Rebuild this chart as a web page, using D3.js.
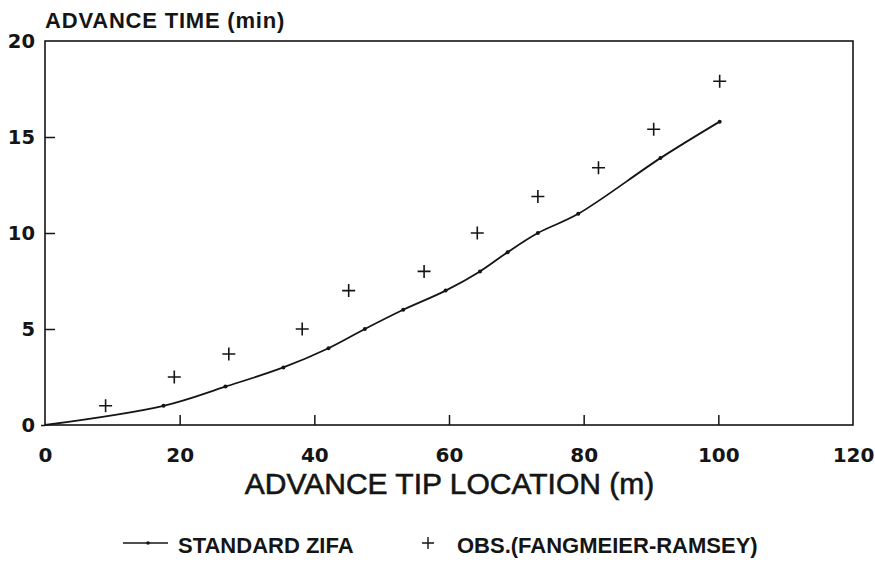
<!DOCTYPE html>
<html>
<head>
<meta charset="utf-8">
<script src="https://cdn.jsdelivr.net/npm/d3@7"></script>
<style>
  html, body { margin: 0; padding: 0; background: #fff; }
  svg { display: block; }
</style>
</head>
<body>
<svg id="chart" width="875" height="564"></svg>
<script>
// ---- data ----
const xTicks = [0, 20, 40, 60, 80, 100, 120];
const yTicks = [0, 5, 10, 15, 20];
const zifaX = [0, 17.6, 26.8, 35.4, 42.1, 47.5, 53.2, 59.5, 64.6, 68.7, 73.2, 79.2, 91.4, 100.2];
const zifaY = [0, 1.0, 2.0, 3.0, 4.0, 5.0, 6.0, 7.0, 8.0, 9.0, 10.0, 11.0, 13.9, 15.8];
const obsX = [9.0, 19.2, 27.3, 38.2, 45.1, 56.3, 64.2, 73.2, 82.2, 90.4, 100.2];
const obsY = [1.0, 2.5, 3.7, 5.0, 7.0, 8.0, 10.0, 11.9, 13.4, 15.4, 17.9];
const seriesNames = ["STANDARD ZIFA", "OBS.(FANGMEIER-RAMSEY)"];
const yTitle = "ADVANCE TIME (min)";
const xTitle = "ADVANCE TIP LOCATION (m)";

// ---- layout ----
const svg = d3.select("#chart");
const m = { left: 45, top: 41, right: 853, bottom: 425 };
const ink = "#151515";
const x = d3.scaleLinear().domain([0, 120]).range([m.left, m.right]);
const y = d3.scaleLinear().domain([0, 20]).range([m.bottom, m.top]);

// frame
svg.append("rect")
  .attr("x", m.left).attr("y", m.top)
  .attr("width", m.right - m.left).attr("height", m.bottom - m.top)
  .attr("fill", "none").attr("stroke", ink).attr("stroke-width", 1.6);

const tickFont = "'DejaVu Sans', sans-serif";

// x axis
const gx = svg.append("g").attr("transform", `translate(0,${m.bottom})`)
  .call(d3.axisBottom(x).tickValues(xTicks).tickSize(-10).tickPadding(23).tickFormat(d3.format("d")));
gx.select(".domain").remove();
gx.selectAll(".tick line").attr("stroke", ink).attr("stroke-width", 1.5)
  .attr("display", d => (d === 0 || d === 120) ? "none" : null);
gx.selectAll(".tick text").attr("fill", ink)
  .style("font-family", tickFont).style("font-weight", "bold").style("font-size", "20px");

// y axis
const gy = svg.append("g").attr("transform", `translate(${m.left},0)`)
  .call(d3.axisLeft(y).tickValues(yTicks).tickSize(-10).tickPadding(10).tickFormat(d3.format("d")));
gy.select(".domain").remove();
gy.selectAll(".tick line").attr("stroke", ink).attr("stroke-width", 1.5)
  .attr("x2", d => d === 0 ? -4 : (d === 20 ? 0 : 10));
gy.selectAll(".tick text").attr("fill", ink)
  .style("font-family", tickFont).style("font-weight", "bold").style("font-size", "19.5px");

// titles
svg.append("text").attr("x", 45).attr("y", 28)
  .attr("fill", ink)
  .style("font-family", "'Liberation Sans', Arial, sans-serif")
  .style("font-weight", "bold").style("font-size", "22px").style("letter-spacing", "0.8px")
  .text(yTitle);

svg.append("text").attr("x", (242 + 657) / 2).attr("y", 494)
  .attr("text-anchor", "middle").attr("fill", ink)
  .attr("stroke", ink).attr("stroke-width", 0.6)
  .style("font-family", "'Liberation Sans', Arial, sans-serif")
  .style("font-size", "30px")
  .text(xTitle);

// ZIFA line
const zifa = zifaX.map((d, i) => ({ x: d, y: zifaY[i] }));
svg.append("path").datum(zifa)
  .attr("fill", "none").attr("stroke", ink).attr("stroke-width", 1.8)
  .attr("d", d3.line().x(d => x(d.x)).y(d => y(d.y)).curve(d3.curveCatmullRom.alpha(0.5)));
svg.append("g").selectAll("circle").data(zifa.slice(1)).join("circle")
  .attr("cx", d => x(d.x)).attr("cy", d => y(d.y)).attr("r", 2).attr("fill", ink);

// observations (plus markers)
const obs = obsX.map((d, i) => ({ x: d, y: obsY[i] }));
const plus = (s) => `M${-s},0H${s}M0,${-s}V${s}`;
svg.append("g").selectAll("path").data(obs).join("path")
  .attr("transform", d => `translate(${x(d.x)},${y(d.y)})`)
  .attr("d", plus(6.5)).attr("stroke", ink).attr("stroke-width", 1.6).attr("fill", "none");

// legend
const lg = svg.append("g");
lg.append("line").attr("x1", 123).attr("x2", 168).attr("y1", 543).attr("y2", 543)
  .attr("stroke", ink).attr("stroke-width", 1.6);
lg.append("circle").attr("cx", 148).attr("cy", 543).attr("r", 1.8).attr("fill", ink);
lg.append("text").attr("x", 178).attr("y", 553).attr("fill", ink)
  .style("font-family", "'Liberation Sans', Arial, sans-serif")
  .style("font-weight", "bold").style("font-size", "22px")
  .text(seriesNames[0]);
lg.append("path").attr("transform", "translate(428,543)").attr("d", plus(6))
  .attr("stroke", ink).attr("stroke-width", 1.4).attr("fill", "none");
lg.append("text").attr("x", 457).attr("y", 553).attr("fill", ink)
  .style("font-family", "'Liberation Sans', Arial, sans-serif")
  .style("font-weight", "bold").style("font-size", "22px")
  .text(seriesNames[1]);
</script>
</body>
</html>
